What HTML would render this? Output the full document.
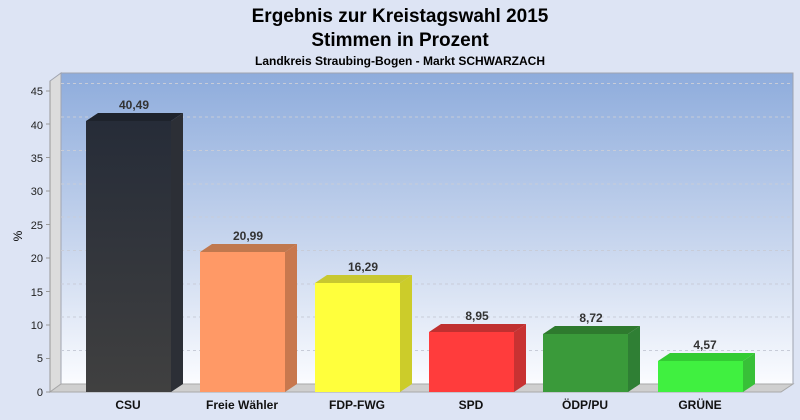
<!DOCTYPE html>
<html><head><meta charset="utf-8"><style>
body{margin:0;width:800px;height:420px;background:#dde4f4;overflow:hidden}
svg{display:block}
text{font-family:"Liberation Sans",sans-serif}
</style></head><body>
<svg width="800" height="420" viewBox="0 0 800 420">
<defs>
<linearGradient id="bg" x1="0" y1="0" x2="0" y2="1">
<stop offset="0" stop-color="#8eacdc"/><stop offset="0.55" stop-color="#c8d6ee"/><stop offset="1" stop-color="#fbfcff"/>
</linearGradient>
<linearGradient id="csu" x1="0" y1="0" x2="0" y2="1">
<stop offset="0" stop-color="#262c38"/><stop offset="1" stop-color="#404040"/>
</linearGradient>
</defs>
<rect width="800" height="420" fill="#dde4f4"/>
<text x="400" y="22" font-size="19" font-weight="bold" text-anchor="middle">Ergebnis zur Kreistagswahl 2015</text>
<text x="400" y="46" font-size="19" font-weight="bold" text-anchor="middle">Stimmen in Prozent</text>
<text x="400" y="65" font-size="12" font-weight="bold" text-anchor="middle">Landkreis Straubing-Bogen - Markt SCHWARZACH</text>
<!-- back plane -->
<rect x="61" y="73" width="732" height="311" fill="url(#bg)" stroke="#a0a4b0"/>
<!-- left wall -->
<polygon points="50,81 61,73 61,384 50,392" fill="#dcdcdc" stroke="#a0a4b0"/>
<!-- floor -->
<polygon points="50,392 61,384 793,384 781,392" fill="#cfcfcf" stroke="#a8a8a8"/>
<g stroke="#c8ccd8" stroke-dasharray="3,3" stroke-width="1">
<line x1="61" y1="350.5" x2="793" y2="350.5"/><line x1="61" y1="317" x2="793" y2="317"/>
<line x1="61" y1="284" x2="793" y2="284"/><line x1="61" y1="250.5" x2="793" y2="250.5"/>
<line x1="61" y1="217" x2="793" y2="217"/><line x1="61" y1="184" x2="793" y2="184"/>
<line x1="61" y1="150.5" x2="793" y2="150.5"/><line x1="61" y1="117" x2="793" y2="117"/>
<line x1="61" y1="83.5" x2="793" y2="83.5"/>
</g>
<line x1="50" y1="81" x2="50" y2="392" stroke="#999"/>
<g font-size="11" text-anchor="end" fill="#222">
<text x="43" y="396">0</text><text x="43" y="362">5</text><text x="43" y="329">10</text>
<text x="43" y="296">15</text><text x="43" y="262">20</text><text x="43" y="229">25</text>
<text x="43" y="195">30</text><text x="43" y="162">35</text><text x="43" y="129">40</text><text x="43" y="95">45</text>
</g>
<g stroke="#999"><line x1="46" y1="392" x2="50" y2="392"/><line x1="46" y1="358.5" x2="50" y2="358.5"/><line x1="46" y1="325" x2="50" y2="325"/><line x1="46" y1="291.5" x2="50" y2="291.5"/><line x1="46" y1="258" x2="50" y2="258"/><line x1="46" y1="224.5" x2="50" y2="224.5"/><line x1="46" y1="191" x2="50" y2="191"/><line x1="46" y1="157.5" x2="50" y2="157.5"/><line x1="46" y1="124" x2="50" y2="124"/><line x1="46" y1="91" x2="50" y2="91"/></g>
<text x="22" y="236" font-size="12" text-anchor="middle" transform="rotate(-90 22 236)">%</text>
<!-- bars: front x, top y -->
<g>
<polygon points="86,121 98,113 183,113 171,121" fill="#1e232c"/>
<polygon points="171,121 183,113 183,384 171,392" fill="#2c2f36"/>
<rect x="86" y="121" width="85" height="271" fill="url(#csu)"/>

<polygon points="200,252 212,244 297,244 285,252" fill="#c0784e"/>
<polygon points="285,252 297,244 297,384 285,392" fill="#c8784e"/>
<rect x="200" y="252" width="85" height="140" fill="#ff9966"/>

<polygon points="315,283 327,275 412,275 400,283" fill="#c8c830"/>
<polygon points="400,283 412,275 412,384 400,392" fill="#cccc2a"/>
<rect x="315" y="283" width="85" height="109" fill="#ffff3c"/>

<polygon points="429,332 441,324 526,324 514,332" fill="#c03030"/>
<polygon points="514,332 526,324 526,384 514,392" fill="#c83232"/>
<rect x="429" y="332" width="85" height="60" fill="#ff3c3c"/>

<polygon points="543,334 555,326 640,326 628,334" fill="#2e7a2e"/>
<polygon points="628,334 640,326 640,384 628,392" fill="#2f7f34"/>
<rect x="543" y="334" width="85" height="58" fill="#3a9a3a"/>

<polygon points="658,361 670,353 755,353 743,361" fill="#33cc33"/>
<polygon points="743,361 755,353 755,384 743,392" fill="#38c038"/>
<rect x="658" y="361" width="85" height="31" fill="#40f040"/>
</g>
<g font-size="12" font-weight="bold" text-anchor="middle" fill="#333">
<text x="134" y="109">40,49</text><text x="248" y="240">20,99</text><text x="363" y="271">16,29</text>
<text x="477" y="320">8,95</text><text x="591" y="322">8,72</text><text x="705" y="349">4,57</text>
</g>
<g font-size="12" font-weight="bold" text-anchor="middle" fill="#111">
<text x="128" y="409">CSU</text><text x="242" y="409">Freie Wähler</text><text x="357" y="409">FDP-FWG</text>
<text x="471" y="409">SPD</text><text x="585" y="409">ÖDP/PU</text><text x="700" y="409">GRÜNE</text>
</g>
</svg>
</body></html>
